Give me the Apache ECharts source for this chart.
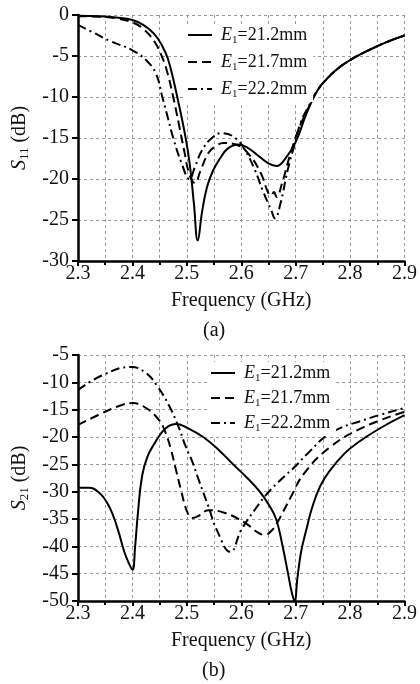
<!DOCTYPE html>
<html>
<head>
<meta charset="utf-8">
<script src="https://cdn.jsdelivr.net/npm/echarts@6/dist/echarts.min.js"></script>
<style>
  html, body { margin: 0; padding: 0; background: #fff; }
  #chart { width: 420px; height: 684px; }
</style>
</head>
<body>
<div id="chart"></div>
<script>
// Legend entries (slot length E1)
const seriesNames = ['E1=21.2mm', 'E1=21.7mm', 'E1=22.2mm'];

// Frequency axis range and tick step (GHz)
const freqMin = 2.3, freqMax = 2.9, freqStep = 0.1;

// (a) S11 in dB
const s11Range = [-30, 0];
const s11Freq212 = [2.30, 2.34, 2.37, 2.40, 2.42, 2.44, 2.455, 2.465, 2.475, 2.485, 2.495, 2.505, 2.513, 2.52, 2.528, 2.537, 2.548, 2.56, 2.575, 2.595, 2.61, 2.63, 2.65, 2.665, 2.68, 2.70, 2.72, 2.74, 2.76, 2.78, 2.80, 2.825, 2.85, 2.875, 2.90];
const s11Val212  = [-0.1, -0.15, -0.3, -0.6, -1.2, -2.3, -3.8, -5.3, -7.8, -10.8, -14, -18, -23, -27.5, -24, -21, -19, -17.6, -16.3, -15.8, -16.1, -17.1, -18.1, -18.4, -17.6, -15.5, -12, -9.2, -7.6, -6.4, -5.5, -4.6, -3.8, -3.1, -2.5];

const s11Freq217 = [2.30, 2.34, 2.37, 2.40, 2.42, 2.44, 2.455, 2.465, 2.475, 2.485, 2.495, 2.505, 2.515, 2.525, 2.54, 2.555, 2.567, 2.59, 2.613, 2.636, 2.649, 2.655, 2.66, 2.665, 2.675, 2.69, 2.705, 2.72, 2.74, 2.76, 2.78, 2.80, 2.825, 2.85, 2.875, 2.90];
const s11Val217  = [-0.15, -0.2, -0.4, -0.9, -1.7, -3.2, -5.2, -7.2, -10, -13.2, -16.5, -19.5, -20.5, -19, -16.8, -15.9, -15.6, -15.8, -16.9, -19.3, -21.6, -22, -21.6, -22.2, -20.5, -17, -14, -11.8, -9.2, -7.6, -6.4, -5.5, -4.6, -3.8, -3.1, -2.5];

const s11Freq222 = [2.30, 2.33, 2.36, 2.40, 2.425, 2.443, 2.455, 2.465, 2.475, 2.49, 2.505, 2.515, 2.528, 2.546, 2.564, 2.589, 2.607, 2.625, 2.64, 2.655, 2.662, 2.672, 2.685, 2.698, 2.71, 2.725, 2.74, 2.76, 2.78, 2.80, 2.825, 2.85, 2.875, 2.90];
const s11Val222  = [-1.2, -2.2, -3.2, -4.3, -5.5, -7.1, -10, -12.5, -15, -18, -20, -18.5, -16.5, -15, -14.4, -15, -16.5, -18.9, -21.5, -23.8, -24.8, -23, -19, -15.8, -13, -11, -9.2, -7.6, -6.4, -5.5, -4.6, -3.8, -3.1, -2.5];

// (b) S21 in dB
const s21Range = [-50, -5];
const s21Freq212 = [2.30, 2.32, 2.34, 2.355, 2.365, 2.375, 2.385, 2.393, 2.40, 2.405, 2.41, 2.418, 2.428, 2.44, 2.455, 2.468, 2.48, 2.50, 2.53, 2.56, 2.585, 2.61, 2.634, 2.65, 2.664, 2.676, 2.686, 2.693, 2.698, 2.703, 2.71, 2.72, 2.73, 2.745, 2.764, 2.79, 2.813, 2.855, 2.90];
const s21Val212  = [-29.3, -29.3, -30.3, -32.3, -34.5, -37.5, -41, -43, -44.3, -40, -34, -27, -23.5, -21.3, -19, -17.9, -17.6, -18.3, -20, -22.5, -25, -27.4, -30, -32.3, -35, -40, -45, -48.5, -50, -46, -41, -36.8, -33, -29, -26, -23, -21.1, -18.4, -16];

const s21Freq217 = [2.30, 2.345, 2.382, 2.40, 2.425, 2.449, 2.46, 2.47, 2.48, 2.49, 2.50, 2.51, 2.522, 2.54, 2.57, 2.607, 2.631, 2.643, 2.655, 2.667, 2.691, 2.716, 2.764, 2.825, 2.90];
const s21Val217  = [-17.8, -15.6, -14.1, -13.8, -14.7, -16.9, -19, -22, -26, -30, -33.5, -34.8, -34.4, -33.4, -33.9, -35.7, -37.5, -37.9, -37.2, -35.5, -31, -26.6, -21.8, -18.2, -15.4];

const s21Freq222 = [2.30, 2.345, 2.398, 2.425, 2.445, 2.467, 2.485, 2.497, 2.51, 2.522, 2.54, 2.555, 2.58, 2.60, 2.625, 2.649, 2.675, 2.698, 2.722, 2.764, 2.825, 2.90];
const s21Val222  = [-11.4, -8.7, -7.2, -8.3, -10.6, -14.2, -18.2, -21.5, -24.5, -27.9, -32.8, -37, -41, -37, -33.3, -30.2, -27.6, -25.5, -23, -19.3, -16.9, -14.7];

const zip = (xs, ys) => xs.map((x, i) => [x, ys[i]]);

const FONT = "'Liberation Serif', 'Times New Roman', serif";
const INK = '#111';
const lineTypes = ['solid', [9, 5], [9, 4, 2, 4]];

const legendRich = {
  i: { fontFamily: FONT, fontSize: 18, fontStyle: 'italic', color: INK, lineHeight: 22, padding: [0, 0, 0, 4] },
  s: { fontFamily: FONT, fontSize: 11, color: INK, lineHeight: 8, verticalAlign: 'bottom' },
  t: { fontFamily: FONT, fontSize: 18, color: INK, lineHeight: 22 }
};
const legendText = name => {
  const m = name.match(/^E1(.*)$/);
  return '{i|E}{s|1}{t|' + m[1] + '}';
};

const axisNameRich = {
  i: { fontFamily: FONT, fontSize: 20, fontStyle: 'italic', color: INK, lineHeight: 24 },
  s: { fontFamily: FONT, fontSize: 13, color: INK, lineHeight: 10, verticalAlign: 'bottom' },
  t: { fontFamily: FONT, fontSize: 20, color: INK, lineHeight: 24 }
};

const gridLine = { show: true, lineStyle: { color: '#9a9a9a', width: 1, type: [3, 3] } };

function xAxisFor(gridIndex) {
  return {
    type: 'value', gridIndex, min: freqMin, max: freqMax, interval: freqStep,
    name: 'Frequency (GHz)', nameLocation: 'middle', nameGap: 30,
    nameTextStyle: { fontFamily: FONT, fontSize: 20, color: INK },
    axisLine: { show: true, onZero: false, lineStyle: { color: '#000', width: 2.5 } },
    axisTick: { show: true, inside: false, length: 5, lineStyle: { color: '#000', width: 2 } },
    minorTick: { show: true, splitNumber: 2, length: 4, lineStyle: { color: '#000', width: 2 } },
    axisLabel: { fontFamily: FONT, fontSize: 20, color: INK, margin: 3,
      formatter: v => v.toFixed(1) },
    splitLine: gridLine,
    minorSplitLine: gridLine
  };
}

function yAxisFor(gridIndex, range, sub) {
  return {
    type: 'value', gridIndex, min: range[0], max: range[1], interval: 5,
    name: '{i|S}{s|' + sub + '}{t| (dB)}', nameLocation: 'middle', nameGap: 46, nameRotate: 90,
    nameTextStyle: { rich: axisNameRich },
    axisLine: { show: true, onZero: false, lineStyle: { color: '#000', width: 2.5 } },
    axisTick: { show: true, inside: false, length: 6, lineStyle: { color: '#000', width: 2 } },
    axisLabel: { fontFamily: FONT, fontSize: 20, color: INK, margin: 9 },
    splitLine: gridLine
  };
}

function lineSeries(nameIdx, axisIdx, data) {
  return {
    type: 'line', name: seriesNames[nameIdx], xAxisIndex: axisIdx, yAxisIndex: axisIdx,
    data, symbol: 'none', showSymbol: false, smooth: 0.45,
    lineStyle: { color: '#000', width: 2, type: lineTypes[nameIdx] },
    itemStyle: { color: '#000' }, animation: false, silent: true
  };
}

function legendFor(left, top, gap) {
  return {
    data: seriesNames, orient: 'vertical', left, top, itemGap: gap,
    itemWidth: 24, itemHeight: 12, padding: [2, 6, 2, 2],
    backgroundColor: '#fff', selectedMode: false,
    itemStyle: { opacity: 0 },
    formatter: legendText,
    textStyle: { rich: legendRich }
  };
}

const chart = echarts.init(document.getElementById('chart'), null, { renderer: 'canvas' });
chart.setOption({
  animation: false,
  backgroundColor: '#fff',
  grid: [
    { left: 78, top: 15, width: 330, height: 246 },
    { left: 78, top: 355, width: 330, height: 246 }
  ],
  title: [
    { text: '(a)', left: 203, top: 321, padding: 0, textStyle: { fontFamily: FONT, fontSize: 20, fontWeight: 'normal', color: INK } },
    { text: '(b)', left: 202, top: 661, padding: 0, textStyle: { fontFamily: FONT, fontSize: 20, fontWeight: 'normal', color: INK } }
  ],
  legend: [legendFor(185, 24, 7), legendFor(208, 362, 5)],
  xAxis: [xAxisFor(0), xAxisFor(1)],
  yAxis: [yAxisFor(0, s11Range, '11'), yAxisFor(1, s21Range, '21')],
  series: [
    lineSeries(0, 0, zip(s11Freq212, s11Val212)),
    lineSeries(1, 0, zip(s11Freq217, s11Val217)),
    lineSeries(2, 0, zip(s11Freq222, s11Val222)),
    lineSeries(0, 1, zip(s21Freq212, s21Val212)),
    lineSeries(1, 1, zip(s21Freq217, s21Val217)),
    lineSeries(2, 1, zip(s21Freq222, s21Val222))
  ]
});
</script>
</body>
</html>
